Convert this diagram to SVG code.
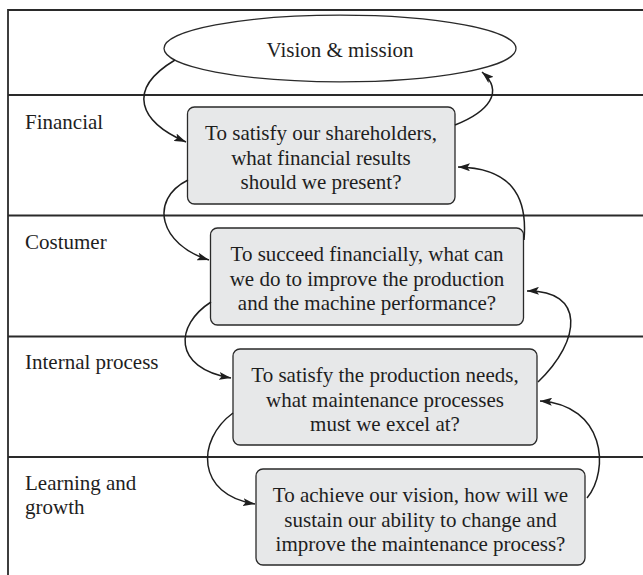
<svg xmlns="http://www.w3.org/2000/svg" width="643" height="575" viewBox="0 0 643 575">
<style>
text{font-family:"Liberation Serif","Times New Roman",serif;font-size:21px;fill:#1e1e1e}
.c{text-anchor:middle}
.frame{stroke:#2a2a2a;stroke-width:1.8;fill:none}
.box{fill:#e7e8e9;stroke:#2a2a2a;stroke-width:1.3}
.conn{fill:none;stroke:#1e1e1e;stroke-width:1.5}
</style>
<defs>
<marker id="ah" viewBox="0 0 12 8" refX="12" refY="4" markerWidth="12" markerHeight="8" markerUnits="userSpaceOnUse" orient="auto">
<path d="M0,0 L12,4 L0,8 L2.5,4 Z" fill="#1e1e1e"/>
</marker>
</defs>
<g id="frame">
<path class="frame" d="M643,10 H8 V575"/>
<line class="frame" x1="8" y1="95" x2="643" y2="95"/>
<line class="frame" x1="8" y1="215.5" x2="643" y2="215.5"/>
<line class="frame" x1="8" y1="336.5" x2="643" y2="336.5"/>
<line class="frame" x1="8" y1="457" x2="643" y2="457"/>
</g>
<g id="labels">
<text x="25" y="129">Financial</text>
<text x="25" y="249">Costumer</text>
<text x="25" y="369">Internal process</text>
<text x="25" y="490">Learning and</text>
<text x="25" y="514">growth</text>
</g>
<g id="vision">
<ellipse cx="340" cy="48.5" rx="176" ry="33.3" fill="#fff" stroke="#2a2a2a" stroke-width="1.3"/>
<text class="c" x="340" y="57">Vision &amp; mission</text>
</g>
<g id="financial">
<rect class="box" x="187.5" y="107" width="267.5" height="97" rx="7"/>
<text class="c" x="321" y="140">To satisfy our shareholders,</text>
<text class="c" x="321" y="164.5">what financial results</text>
<text class="c" x="321" y="189">should we present?</text>
</g>
<g id="customer">
<rect class="box" x="210.5" y="228" width="313" height="97" rx="7"/>
<text class="c" x="367" y="261">To succeed financially, what can</text>
<text class="c" x="367" y="285.5">we do to improve the production</text>
<text class="c" x="367" y="310">and the machine performance?</text>
</g>
<g id="internal">
<rect class="box" x="233" y="349" width="304" height="96" rx="7"/>
<text class="c" x="385" y="382">To satisfy the production needs,</text>
<text class="c" x="385" y="406.5">what maintenance processes</text>
<text class="c" x="385" y="431">must we excel at?</text>
</g>
<g id="learning">
<rect class="box" x="256" y="469" width="329" height="96" rx="7"/>
<text class="c" x="420.5" y="502">To achieve our vision, how will we</text>
<text class="c" x="420.5" y="526.5">sustain our ability to change and</text>
<text class="c" x="420.5" y="551">improve the maintenance process?</text>
</g>
<g id="connectors">
<path class="conn" marker-end="url(#ah)" d="M175,60 C125,90 140,122 186,142"/>
<path class="conn" marker-end="url(#ah)" d="M455,125 C488,112 505,92 482,72"/>
<path class="conn" marker-end="url(#ah)" d="M524,240 C528,195 510,168 458,167"/>
<path class="conn" marker-end="url(#ah)" d="M188,180 C148,200 160,245 209,260"/>
<path class="conn" marker-end="url(#ah)" d="M538,382 C582,340 585,290 527,291"/>
<path class="conn" marker-end="url(#ah)" d="M211,302 C175,325 172,368 231,378"/>
<path class="conn" marker-end="url(#ah)" d="M587,498 C610,470 605,405 540,401"/>
<path class="conn" marker-end="url(#ah)" d="M233,413 C196,440 196,495 255,504"/>
</g>
</svg>
